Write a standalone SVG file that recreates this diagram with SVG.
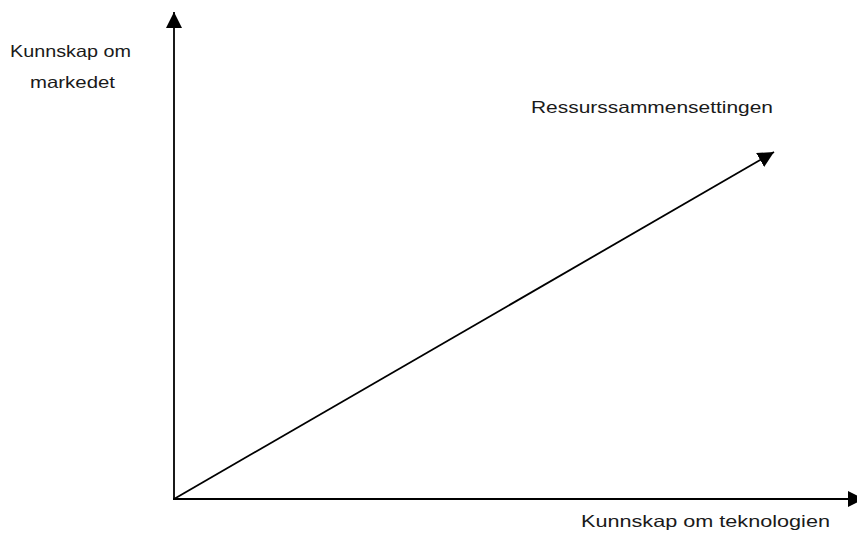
<svg xmlns="http://www.w3.org/2000/svg" width="857" height="533" viewBox="0 0 857 533">
<style>
.t{font-family:"Liberation Sans",Arial,sans-serif;font-size:16.5px;fill:#1a1a1a}
.ax{stroke:#000;stroke-width:1.8;fill:none}
</style>
<defs>
<marker id="ah" markerUnits="userSpaceOnUse" markerWidth="16" markerHeight="16" refX="16" refY="8" orient="auto" viewBox="0 0 16 16">
<path d="M0,0 L16,8 L0,16 Z" fill="#000"/>
</marker>
</defs>
<rect width="857" height="533" fill="#fff"/>
<g id="connectors">
<line class="ax" x1="174" y1="500" x2="174" y2="12" marker-end="url(#ah)"/>
<line class="ax" x1="173" y1="499" x2="864" y2="499" marker-end="url(#ah)"/>
<line class="ax" x1="174" y1="499" x2="774" y2="152" marker-end="url(#ah)"/>
</g>
<g id="label-y">
<text class="t" x="10" y="57" textLength="121" lengthAdjust="spacingAndGlyphs">Kunnskap om</text>
<text class="t" x="30" y="88" textLength="85" lengthAdjust="spacingAndGlyphs">markedet</text>
</g>
<g id="label-diag">
<text class="t" x="531" y="113" textLength="242" lengthAdjust="spacingAndGlyphs">Ressurssammensettingen</text>
</g>
<g id="label-x">
<text class="t" x="581" y="527" textLength="249" lengthAdjust="spacingAndGlyphs">Kunnskap om teknologien</text>
</g>
</svg>
